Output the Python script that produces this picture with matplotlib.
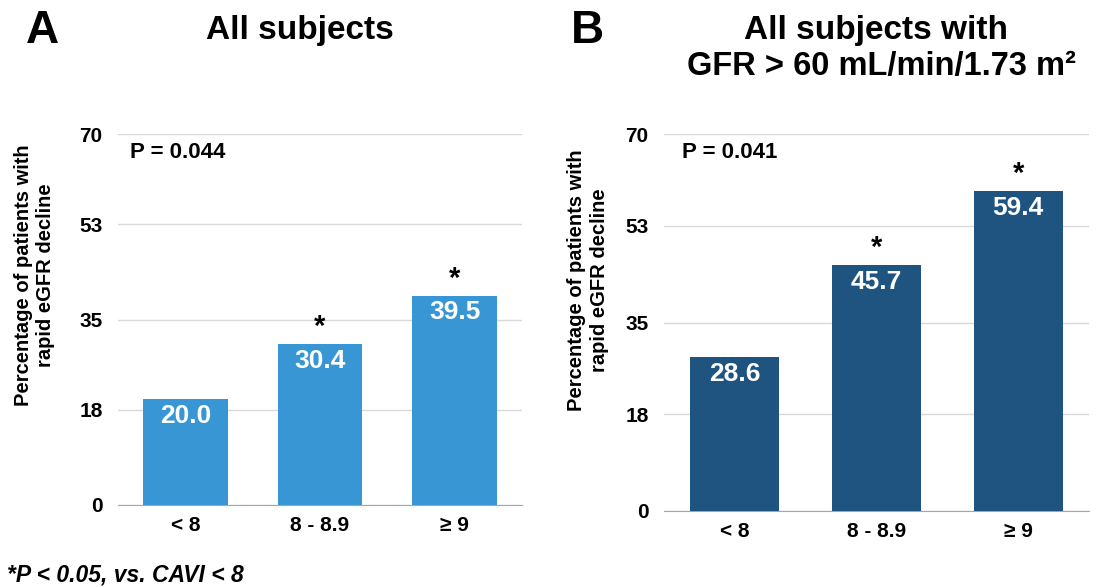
import numpy as np
import matplotlib.pyplot as plt

plt.rcParams['font.family'] = ['Liberation Sans', 'DejaVu Sans']
plt.rcParams['font.weight'] = 'bold'

categories = ["< 8", "8 - 8.9", "≥ 9"]
all_subjects = [20.0, 30.4, 39.5]
gfr_subjects = [28.6, 45.7, 59.4]
significant_all = [False, True, True]
significant_gfr = [False, True, True]
y_ticks = [0, 18, 35, 53, 70]

W, H = 1100, 587
fig = plt.figure(figsize=(W / 100, H / 100), dpi=100)


def px_axes(x0, x1, y0, y1):
  # pixel box -> figure fraction
  return fig.add_axes([x0 / W, 1 - y1 / H, (x1 - x0) / W, (y1 - y0) / H])


def draw_panel(ax, values, stars, color, p_text, p_pos, label_pos):
  x = np.arange(len(categories))
  bars = ax.bar(x, values, width=0.63, color=color, zorder=3)
  ax.set_xlim(-0.5, 2.5)
  ax.set_ylim(0, 70)
  ax.set_yticks(y_ticks)
  ax.set_xticks(x)
  ax.set_xticklabels(categories, fontsize=15, fontweight='bold')
  ax.tick_params(axis='y', labelsize=15, length=0, pad=11)
  ax.tick_params(axis='x', length=0, pad=8)
  for s in ['top', 'right', 'left']:
    ax.spines[s].set_visible(False)
  ax.spines['bottom'].set_color('#A6A6A6')
  ax.yaxis.grid(True, color='#D9D9D9', linewidth=1)
  ax.set_axisbelow(True)
  for bar, v, star in zip(bars, values, stars):
    cx = bar.get_x() + bar.get_width() / 2
    ax.annotate(f"{v:.1f}", (cx, v), xytext=(0, -12), textcoords='offset points',
                ha='center', va='center', color='white', fontsize=19, fontweight='bold')
    if star:
      ax.annotate("*", (cx, v), xytext=(0, 12), textcoords='offset points',
                  ha='center', va='center', color='black', fontsize=21, fontweight='bold')
  ax.text(p_pos[0], p_pos[1], p_text, transform=ax.transAxes, ha='left', va='center',
          fontsize=16, fontweight='bold')
  ax.set_ylabel("Percentage of patients with\nrapid eGFR decline", fontsize=14.5,
                fontweight='bold', linespacing=1.25)
  ax.yaxis.set_label_coords(label_pos[0], label_pos[1])


ax1 = px_axes(118, 522, 134, 505)
draw_panel(ax1, all_subjects, significant_all, '#3796D3', "P = 0.044",
           (0.03, 0.951), (-0.155, 0.62))

ax2 = px_axes(664, 1089, 134, 511)
draw_panel(ax2, gfr_subjects, significant_gfr, '#1F5480', "P = 0.041",
           (0.042, 0.95), (-0.13, 0.613))

fig.text(26 / W, 1 - 31 / H, "A", fontsize=33, fontweight='bold', va='center', ha='left')
fig.text(300 / W, 1 - 31 / H, "All subjects", fontsize=24, fontweight='bold',
         va='center', ha='center')
fig.text(571 / W, 1 - 31 / H, "B", fontsize=33, fontweight='bold', va='center', ha='left')
fig.text(876 / W, 1 - 31 / H, "All subjects with", fontsize=24, fontweight='bold',
         va='center', ha='center')
fig.text(881 / W, 1 - 67 / H, "GFR > 60 mL/min/1.73 m²", fontsize=23.5,
         fontweight='bold', va='center', ha='center')

fig.text(7 / W, 1 - 575 / H, "*P < 0.05, vs. CAVI < 8", fontsize=16.5, fontweight='bold',
         style='italic', va='center', ha='left')

fig.savefig("out.png", dpi=100)
